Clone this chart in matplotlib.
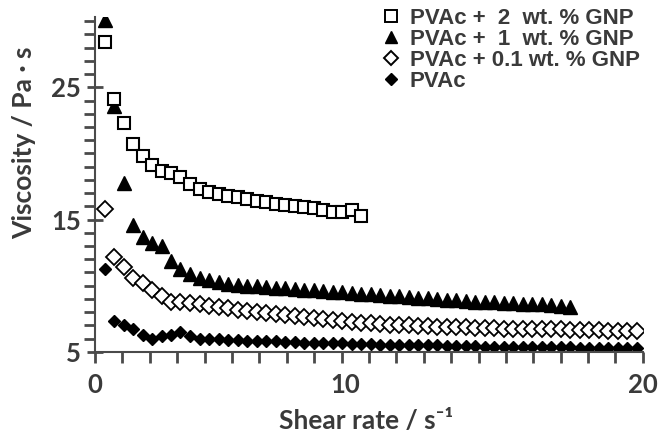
import matplotlib.pyplot as plt
from matplotlib.ticker import FixedLocator, MultipleLocator
from matplotlib.lines import Line2D
import matplotlib.transforms as mtransforms

# shear rate steps shared by all measurements (s^-1)
shear_rate = [0.35, 0.69, 1.04, 1.39, 1.74, 2.08, 2.43, 2.78, 3.12, 3.47,
              3.82, 4.16, 4.51, 4.86, 5.21, 5.55, 5.90, 6.25, 6.59, 6.94,
              7.29, 7.63, 7.98, 8.33, 8.68, 9.02, 9.37, 9.72, 10.06, 10.41,
              10.76, 11.10, 11.45, 11.80, 12.15, 12.49, 12.84, 13.19, 13.53, 13.88,
              14.23, 14.57, 14.92, 15.27, 15.62, 15.96, 16.31, 16.66, 17.00, 17.35,
              17.70, 18.04, 18.39, 18.74, 19.09, 19.43, 19.78]

# viscosity (Pa s)
visc_2wt = [28.4, 24.1, 22.3, 20.7, 19.8, 19.1, 18.7, 18.5, 18.2, 17.7,
            17.35, 17.1, 16.9, 16.8, 16.7, 16.55, 16.4, 16.3, 16.2, 16.1,
            16.0, 15.95, 15.85, 15.7, 15.6, 15.55, 15.7, 15.3]

visc_1wt = [30.1, 23.6, 17.8, 14.6, 13.7, 13.2, 13.0, 11.9, 11.3, 10.9,
            10.6, 10.4, 10.25, 10.15, 10.05, 10.0, 9.95, 9.9, 9.85, 9.8,
            9.75, 9.7, 9.65, 9.6, 9.55, 9.5, 9.45, 9.4, 9.35, 9.3,
            9.25, 9.2, 9.15, 9.1, 9.05, 9.0, 8.95, 8.9, 8.85, 8.8,
            8.8, 8.75, 8.7, 8.7, 8.65, 8.6, 8.6, 8.55, 8.5, 8.4]

visc_01wt = [15.8, 12.2, 11.4, 10.6, 10.2, 9.7, 9.2, 8.8, 8.75, 8.7,
             8.6, 8.5, 8.4, 8.3, 8.2, 8.1, 8.0, 7.95, 7.85, 7.8,
             7.7, 7.6, 7.55, 7.45, 7.4, 7.3, 7.25, 7.2, 7.15, 7.1,
             7.05, 7.0, 7.0, 6.95, 6.95, 6.9, 6.9, 6.85, 6.85, 6.8,
             6.8, 6.8, 6.75, 6.75, 6.75, 6.7, 6.7, 6.7, 6.7, 6.65,
             6.65, 6.65, 6.65, 6.6, 6.6, 6.6, 6.6]

visc_pvac = [11.3, 7.3, 7.0, 6.7, 6.3, 6.0, 6.2, 6.3, 6.5, 6.2,
             6.0, 5.95, 5.95, 5.9, 5.9, 5.85, 5.85, 5.8, 5.8, 5.75,
             5.75, 5.7, 5.7, 5.7, 5.65, 5.65, 5.6, 5.6, 5.6, 5.55,
             5.55, 5.55, 5.5, 5.5, 5.5, 5.5, 5.45, 5.45, 5.45, 5.45,
             5.4, 5.4, 5.4, 5.4, 5.4, 5.35, 5.35, 5.35, 5.35, 5.35,
             5.3, 5.3, 5.3, 5.3, 5.3, 5.3, 5.3]

labels = ['PVAc +  2  wt. % GNP', 'PVAc +  1  wt. % GNP',
          'PVAc + 0.1 wt. % GNP', 'PVAc']

x_ticks = [0, 10, 20]
y_ticks = [5, 15, 25]

axis_grey = '#4a4a4a'
text_col = '#3a3a3a'
tick_font = ['Lato', 'DejaVu Sans']


def main():
    fig, ax = plt.subplots(figsize=(6.6, 4.42), dpi=100)
    fig.subplots_adjust(left=0.144, right=0.974, bottom=0.204, top=0.961)

    ax.plot(shear_rate[:len(visc_pvac)], visc_pvac, 'D', ms=6.5,
            mfc='black', mec='black', mew=1.0, ls='none', zorder=2)
    ax.plot(shear_rate[:len(visc_01wt)], visc_01wt, 'D', ms=8.0,
            mfc='white', mec='black', mew=1.3, ls='none', zorder=3)
    ax.plot(shear_rate[:len(visc_1wt)], visc_1wt, '^', ms=10,
            mfc='black', mec='black', mew=1.0, ls='none', zorder=4)
    ax.plot(shear_rate[:len(visc_2wt)], visc_2wt, 's', ms=8.5,
            mfc='white', mec='black', mew=1.5, ls='none', zorder=5)

    ax.set_xlim(0, 20)
    ax.set_ylim(5, 30.3)

    for s in ['top', 'right']:
        ax.spines[s].set_visible(False)
    for s in ['left', 'bottom']:
        ax.spines[s].set_color(axis_grey)
        ax.spines[s].set_linewidth(1.5)

    ax.xaxis.set_major_locator(FixedLocator(x_ticks))
    ax.xaxis.set_minor_locator(MultipleLocator(1))
    ax.yaxis.set_major_locator(FixedLocator(y_ticks))
    ax.yaxis.set_minor_locator(MultipleLocator(1))
    ax.tick_params(which='both', color=axis_grey, width=2)
    ax.tick_params(axis='y', which='major', direction='inout', length=12, pad=4)
    ax.tick_params(axis='y', which='minor', direction='out', length=8)
    ax.tick_params(axis='x', which='major', direction='out', length=8, pad=7)
    ax.tick_params(axis='x', which='minor', direction='out', length=8)

    ax.set_xticklabels([str(v) for v in x_ticks])
    ax.set_yticklabels([str(v) for v in y_ticks])
    for lab in ax.get_xticklabels() + ax.get_yticklabels():
        lab.set_family(tick_font)
        lab.set_fontweight('bold')
        lab.set_fontsize(18.5)
        lab.set_color(text_col)
    # the middle x label sits a little to the left of its tick
    mid = ax.get_xticklabels()[1]
    mid.set_transform(mid.get_transform() +
                      mtransforms.ScaledTranslation(-24 / 100, 0, fig.dpi_scale_trans))

    ax.set_xlabel('Shear rate / s\u207b\u00b9', family=tick_font,
                  fontweight='bold', fontsize=19, color=text_col)
    ax.set_ylabel('Viscosity / Pa \u00b7 s', family=tick_font,
                  fontweight='bold', fontsize=19, color=text_col)
    ax.xaxis.set_label_coords(0.495, -0.17)
    ax.yaxis.set_label_coords(-0.108, 0.625)

    handles = [
        Line2D([], [], marker='s', ms=8, mfc='white', mec='black', mew=1.4, ls='none'),
        Line2D([], [], marker='^', ms=9, mfc='black', mec='black', ls='none'),
        Line2D([], [], marker='D', ms=7, mfc='white', mec='black', mew=1.4, ls='none'),
        Line2D([], [], marker='D', ms=6.5, mfc='black', mec='black', ls='none'),
    ]
    leg = ax.legend(handles, labels, loc='upper left',
                    bbox_to_anchor=(0.51, 1.055), frameon=False,
                    handlelength=0.7, handletextpad=0.5, labelspacing=0.0,
                    borderaxespad=0,
                    prop={'family': ['Liberation Sans', 'DejaVu Sans'],
                          'weight': 'bold', 'size': 16})
    for t in leg.get_texts():
        t.set_color(text_col)

    fig.savefig('out.png', dpi=100, facecolor='white')


if __name__ == "__main__":
    main()
